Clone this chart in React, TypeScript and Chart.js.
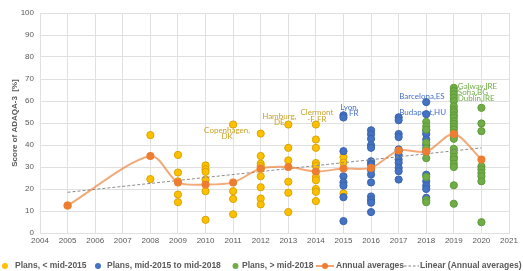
import React, { useEffect, useRef } from "react";
import { Chart, registerables } from "chart.js";

Chart.register(...registerables);

// ---------- DATA ----------
const yearTicks = [2004, 2021];
const yTicks = [0, 100];

const yellowYears = [2005, 2008, 2008, 2009, 2009, 2009, 2009, 2009, 2010, 2010, 2010, 2010, 2010, 2010, 2011, 2011, 2011, 2011,
  2012, 2012, 2012, 2012, 2012, 2012, 2012, 2012, 2012, 2013, 2013, 2013, 2013, 2013, 2013,
  2014, 2014, 2014, 2014, 2014, 2014, 2014, 2014, 2014, 2014, 2015, 2015, 2015];
const yellowScores = [12.5, 44.5, 24.5, 35.5, 27.5, 23.5, 17.5, 14, 30.7, 29, 27.8, 24.3, 19, 6, 49.3, 19, 15.5, 8.5,
  45.2, 35, 31.5, 30.4, 29.2, 25.8, 20.8, 15.7, 13, 49.3, 38.7, 33, 23.3, 18.3, 9.5,
  49.3, 42.5, 38.7, 31.8, 30.5, 25.4, 24, 20, 18.7, 14.5, 34.5, 32, 18];

const blueYears = [2015, 2015, 2015, 2015, 2015, 2015, 2015, 2015,
  2016, 2016, 2016, 2016, 2016, 2016, 2016, 2016, 2016, 2016, 2016, 2016, 2016, 2016,
  2017, 2017, 2017, 2017, 2017, 2017, 2017, 2017, 2017, 2017, 2017, 2017,
  2018, 2018, 2018, 2018, 2018, 2018, 2018, 2018, 2018, 2018, 2018, 2018];
const blueScores = [53.5, 52.5, 37.2, 25.8, 23, 21.5, 16.3, 5.4,
  46.7, 44.9, 42.8, 39.9, 38.7, 32.6, 31.2, 28.7, 26.6, 23, 16.6, 15, 13.8, 9.5,
  52.6, 51.3, 45, 43.6, 38, 37.2, 35.4, 33.4, 31.9, 29.6, 28.1, 24.3,
  59.5, 54, 46.5, 45, 42.5, 40, 37, 26.5, 23.5, 21.5, 20, 16];

const greenYears = [2018, 2018, 2018, 2018, 2018, 2018, 2018, 2018, 2018,
  2019, 2019, 2019, 2019, 2019, 2019, 2019, 2019, 2019, 2019, 2019, 2019, 2019, 2019, 2019, 2019, 2019,
  2019, 2019, 2019, 2019, 2019, 2019, 2019, 2019,
  2020, 2020, 2020, 2020, 2020, 2020, 2020, 2020, 2020];
const greenScores = [50.5, 48.5, 47, 41, 38.5, 34, 25.5, 15, 14,
  66, 64.5, 63, 61.5, 60, 57.6, 56, 55, 53.5, 52.4, 50.8, 49.6, 48.2, 47, 45.5, 44, 42.8,
  38.3, 36.5, 34.6, 33.4, 31.5, 30, 21.7, 13.3,
  56.9, 49.8, 46.3, 30.3, 28.9, 27.3, 25.8, 23.5, 4.9];

const avgYears = [2005, 2008, 2009, 2010, 2011, 2012, 2013, 2014, 2015, 2016, 2017, 2018, 2019, 2020];
const avgScores = [12.5, 35, 23, 22, 23, 29.3, 30, 28, 29.3, 29.6, 37.5, 37, 45, 33.4];

const trendYears = [2005, 2020];
const trendScores = [18.5, 38.7];

const legendLabels = ["Plans, < mid-2015", "Plans, mid-2015 to mid-2018", "Plans, > mid-2018", "Annual averages", "Linear (Annual averages)"];
const yTitle = "Score of ADAQA-3  [%]";

const cityNames = [["Copenhagen,", "DK"], ["Hamburg,", "DE"], ["Clermont", "-F FR"], ["Lyon,", "FR"], ["Barcelona,ES"], ["Budapest,HU"], ["Galway,IRE"], ["Sofia,BG"], ["Dublin,IRE"]];
const cityYears = [2011, 2013, 2014, 2015, 2018, 2018, 2019, 2019, 2019];
const cityScores = [49.3, 49.3, 49.3, 53.5, 59.5, 54, 66, 64.5, 63];
const cityGroup = [0, 0, 0, 1, 1, 1, 2, 2, 2];

// ---------- STYLE ----------
const COLORS = {
  yellow: "#FFC000", yellowBorder: "#D9A300",
  blue: "#4472C4", blueBorder: "#3A63AD",
  green: "#70AD47", greenBorder: "#5F9A3A",
  orange: "#ED7D31",
  text: "#595959",
  grid: "#E0E0E0",
};
const labelColors = ["#C9A228", "#4472C4", "#70AD47"];
// pixel offsets & alignment for city labels (first line), second line +lineGap
const labelStyle = [
  { dx: -6, dy: 5.5, align: "center" },
  { dx: -9, dy: -8.5, align: "center" },
  { dx: 1, dy: -12, align: "center" },
  { dx: 15, dy: -8, align: "right" },
  { dx: -27, dy: -6, align: "left" },
  { dx: -27, dy: -1.5, align: "left" },
  { dx: 4, dy: -1.6, align: "left" },
  { dx: 4, dy: 1.7, align: "left" },
  { dx: 4, dy: 4.3, align: "left" },
];

const pts = (xs: number[], ys: number[]) => xs.map((x, i) => ({ x, y: ys[i] }));

export default function App() {
  const ref = useRef<HTMLCanvasElement | null>(null);

  useEffect(() => {
    if (!ref.current) return;
    const FONT = "'Liberation Sans', Arial, sans-serif";

    const cityLabelPlugin = {
      id: "cityLabels",
      beforeDatasetsDraw(chart: any) {
        const { ctx, scales } = chart;
        ctx.save();
        ctx.font = "8px Lato, 'Liberation Sans', sans-serif";
        ctx.textBaseline = "middle";
        cityNames.forEach((lines, i) => {
          const px = scales.x.getPixelForValue(cityYears[i]);
          const py = scales.y.getPixelForValue(cityScores[i]);
          const st = labelStyle[i];
          ctx.fillStyle = labelColors[cityGroup[i]];
          ctx.textAlign = st.align;
          lines.forEach((t, j) => ctx.fillText(t, px + st.dx, py + st.dy + j * 6.5));
        });
        ctx.restore();
      },
    };

    const legendPlugin = {
      id: "manualLegend",
      afterDraw(chart: any) {
        const { ctx } = chart;
        const y = 266;
        ctx.save();
        ctx.font = "bold 8.5px " + FONT;
        ctx.textBaseline = "middle";
        ctx.textAlign = "left";
        const dot = (x: number, c: string, r = 3) => {
          ctx.beginPath();
          ctx.arc(x, y, r, 0, Math.PI * 2);
          ctx.fillStyle = c;
          ctx.fill();
        };
        const text = (t: string, x: number) => {
          ctx.fillStyle = COLORS.text;
          ctx.fillText(t, x, y);
        };
        dot(5, COLORS.yellow);
        text(legendLabels[0], 15);
        dot(98, COLORS.blue);
        text(legendLabels[1], 107);
        dot(235.5, COLORS.green);
        text(legendLabels[2], 242);
        ctx.strokeStyle = "rgba(237,125,49,0.7)";
        ctx.lineWidth = 2;
        ctx.beginPath();
        ctx.moveTo(316, y);
        ctx.lineTo(334, y);
        ctx.stroke();
        dot(325, COLORS.orange);
        text(legendLabels[3], 336);
        ctx.strokeStyle = "#808080";
        ctx.lineWidth = 1;
        ctx.setLineDash([2.5, 2]);
        ctx.beginPath();
        ctx.moveTo(404, y);
        ctx.lineTo(419, y);
        ctx.stroke();
        ctx.setLineDash([]);
        text(legendLabels[4], 420);
        ctx.restore();
      },
    };

    const scatterDs = (label: string, xs: number[], ys: number[], bg: string, bd: string, order: number) => ({
      type: "scatter" as const,
      label,
      data: pts(xs, ys),
      backgroundColor: bg,
      borderColor: bd,
      borderWidth: 1,
      pointRadius: 3.6,
      order,
    });

    const chart = new Chart(ref.current, {
      type: "scatter",
      data: {
        datasets: [
          {
            type: "line",
            label: legendLabels[3],
            data: pts(avgYears, avgScores),
            borderColor: "rgba(237,125,49,0.65)",
            borderWidth: 2,
            backgroundColor: COLORS.orange,
            pointBackgroundColor: COLORS.orange,
            pointBorderColor: COLORS.orange,
            pointRadius: 3,
            tension: 0.3,
            fill: false,
            order: 0,
          } as any,
          {
            type: "line",
            label: legendLabels[4],
            data: pts(trendYears, trendScores),
            borderColor: "#8C8C8C",
            borderWidth: 1,
            borderDash: [3, 2],
            pointRadius: 0,
            fill: false,
            order: 1,
          } as any,
          scatterDs(legendLabels[0], yellowYears, yellowScores, COLORS.yellow, COLORS.yellowBorder, 4),
          scatterDs(legendLabels[1], blueYears, blueScores, COLORS.blue, COLORS.blueBorder, 3),
          scatterDs(legendLabels[2], greenYears, greenScores, COLORS.green, COLORS.greenBorder, 2),
        ],
      },
      options: {
        responsive: false,
        animation: false,
        devicePixelRatio: 1,
        layout: { padding: { left: 0, right: 14, top: 13, bottom: 0 } },
        plugins: { legend: { display: false }, tooltip: { enabled: false } },
        scales: {
          x: {
            type: "linear",
            min: yearTicks[0],
            max: yearTicks[1],
            ticks: {
              stepSize: 1,
              color: COLORS.text,
              font: { family: FONT, size: 8 },
              padding: 3,
              maxRotation: 0,
              autoSkip: false,
              callback: (v: any) => String(v),
            },
            grid: { color: COLORS.grid, drawTicks: false },
            border: { color: COLORS.grid },
            afterFit: (s: any) => { s.height = 38; },
          },
          y: {
            min: yTicks[0],
            max: yTicks[1],
            ticks: {
              stepSize: 10,
              color: COLORS.text,
              font: { family: FONT, size: 8 },
              padding: 6,
            },
            grid: { color: COLORS.grid, drawTicks: false },
            border: { color: COLORS.grid },
            title: {
              display: true,
              text: yTitle,
              color: COLORS.text,
              font: { family: FONT, size: 8, weight: "bold" },
              padding: { top: 10, bottom: 0 },
            },
            afterFit: (s: any) => { s.width = 40; },
          },
        },
      } as any,
      plugins: [cityLabelPlugin, legendPlugin],
    });
    return () => chart.destroy();
  }, []);

  return (
    <div style={{ position: "fixed", left: 0, top: 0, width: 523, height: 271, background: "#fff" }}>
      <canvas ref={ref} width={523} height={271} style={{ display: "block" }} />
    </div>
  );
}
